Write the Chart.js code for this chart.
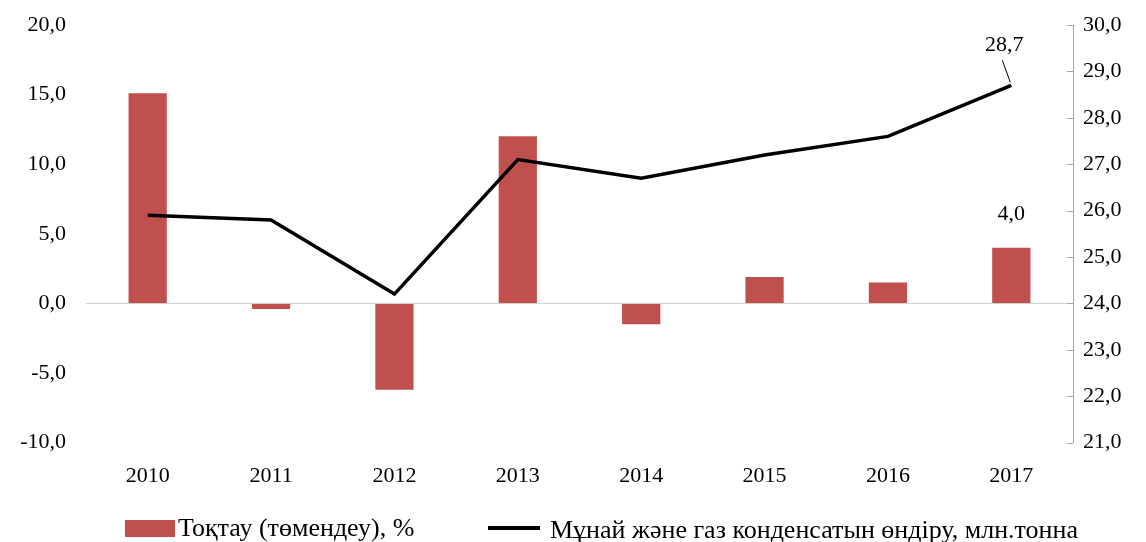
<!DOCTYPE html>
<html>
<head>
<meta charset="utf-8">
<script src="https://cdn.jsdelivr.net/npm/chart.js@4.4.1/dist/chart.umd.min.js"></script>
<style>
  html, body { margin: 0; padding: 0; background: #fff; }
  #wrap { width: 1146px; height: 542px; }
</style>
</head>
<body>
<div id="wrap"><canvas id="oilChart"></canvas></div>
<script>
const years = ['2010', '2011', '2012', '2013', '2014', '2015', '2016', '2017'];
const changePct = [15.1, -0.4, -6.2, 12.0, -1.5, 1.9, 1.5, 4.0];
const production = [25.9, 25.8, 24.2, 27.1, 26.7, 27.2, 27.6, 28.7];
const barLabel = 'Тоқтау (төмендеу), %';
const lineLabel = 'Мұнай және газ конденсатын өндіру, млн.тонна';

const fmt = v => Number(v).toFixed(1).replace('.', ',');
const serif = "'Liberation Serif', 'Times New Roman', serif";

// last-point labels, inward ticks on the right axis, legend
const extras = {
    id: 'extras',
    afterDatasetsDraw(chart) {
        const ctx = chart.ctx;
        const y2 = chart.scales.y2;
        ctx.save();
        ctx.strokeStyle = '#a6a6a6';
        ctx.lineWidth = 1;
        y2.ticks.forEach(t => {
            const py = Math.round(y2.getPixelForValue(t.value)) + 0.5;
            ctx.beginPath();
            ctx.moveTo(y2.left - 6, py);
            ctx.lineTo(y2.left, py);
            ctx.stroke();
        });

        ctx.fillStyle = '#000';
        ctx.font = '22px ' + serif;
        ctx.textAlign = 'center';
        ctx.textBaseline = 'middle';

        const last = years.length - 1;
        const bar = chart.getDatasetMeta(0).data[last];
        ctx.fillText(fmt(changePct[last]), bar.x, bar.y - 34);

        const pt = chart.getDatasetMeta(1).data[last];
        ctx.fillText(fmt(production[last]), pt.x - 7, pt.y - 40);
        ctx.strokeStyle = '#000';
        ctx.beginPath();
        ctx.moveTo(pt.x - 9, pt.y - 25);
        ctx.lineTo(pt.x - 1, pt.y - 3);
        ctx.stroke();

        // legend
        const ly = 529;
        ctx.font = '26px ' + serif;
        ctx.textAlign = 'left';
        ctx.fillStyle = '#C0504D';
        ctx.fillRect(125, ly - 9, 50, 17);
        ctx.fillStyle = '#000';
        ctx.fillText(barLabel, 178, ly);
        ctx.lineWidth = 4;
        ctx.beginPath();
        ctx.moveTo(488, ly - 1);
        ctx.lineTo(540, ly - 1);
        ctx.stroke();
        ctx.fillText(lineLabel, 550, ly + 2);
        ctx.restore();
    }
};

new Chart(document.getElementById('oilChart'), {
    data: {
        labels: years,
        datasets: [{
            type: 'bar',
            label: barLabel,
            data: changePct,
            yAxisID: 'y',
            backgroundColor: '#C0504D',
            barPercentage: 0.31,
            categoryPercentage: 1,
            order: 2
        }, {
            type: 'line',
            label: lineLabel,
            data: production,
            yAxisID: 'y2',
            borderColor: '#000',
            backgroundColor: '#000',
            borderWidth: 3.5,
            pointRadius: 0,
            tension: 0,
            order: 1
        }]
    },
    options: {
        responsive: true,
        maintainAspectRatio: false,
        animation: false,
        layout: { padding: { top: 25, bottom: 41 } },
        plugins: {
            tooltip: { enabled: false },
            legend: { display: false }
        },
        scales: {
            x: {
                grid: { display: false },
                border: { display: false },
                ticks: { color: '#000', font: { family: serif, size: 22 }, padding: 12 }
            },
            y: {
                position: 'left',
                min: -10,
                max: 20,
                ticks: {
                    stepSize: 5,
                    color: '#000',
                    font: { family: serif, size: 22 },
                    padding: 20,
                    callback: v => fmt(v)
                },
                grid: {
                    drawTicks: false,
                    color: c => c.tick && c.tick.value === 0 ? '#d0d0d0' : 'rgba(0,0,0,0)'
                },
                border: { display: false },
                afterFit(s) { s.width = 86; s.paddingTop = 0; }
            },
            y2: {
                position: 'right',
                min: 21,
                max: 30,
                ticks: {
                    stepSize: 1,
                    color: '#000',
                    font: { family: serif, size: 22 },
                    padding: 2,
                    callback: v => fmt(v)
                },
                grid: { display: false, drawOnChartArea: false },
                border: { display: true, color: '#a6a6a6', width: 1 },
                afterFit(s) { s.width = 73; s.paddingTop = 0; }
            }
        }
    },
    plugins: [extras]
});
</script>
</body>
</html>
